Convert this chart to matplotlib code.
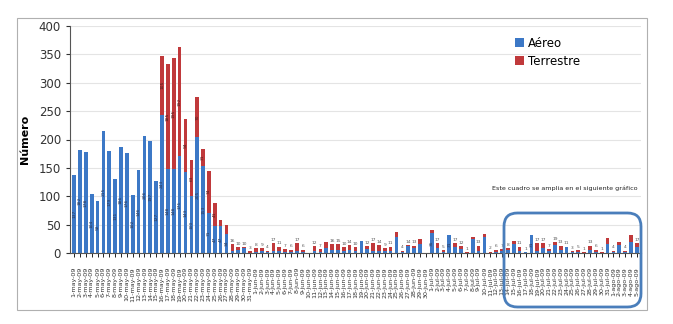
import numpy as np
import matplotlib.pyplot as plt
from matplotlib.patches import FancyBboxPatch, Rectangle
import pandas as pd

# Daten: Fälle pro Tag (Aéreo / Terrestre)
fechas = pd.date_range("2009-05-01", periods=97, freq="D")
meses = {5: "may", 6: "jun", 7: "jul", 8: "ago"}
etiquetas = [f"{d.day}-{meses[d.month]}-09" for d in fechas]

aereo = [137, 182, 178, 104, 92, 215, 179, 131, 186, 176, 102, 146, 206, 197, 127,
         243, 148, 148, 171, 143, 100, 205, 153, 71, 47, 47, 34,
         3, 5, 8, 0, 2, 3, 1, 4, 3, 2, 2, 3, 1, 0,
         4, 2, 8, 6, 5, 4, 6, 3, 21, 7, 4, 4, 3, 4, 28, 1, 12, 9, 16, 0,
         35, 8, 2, 31, 10, 7, 0, 24, 4, 28, 0, 2, 4, 5, 16, 4, 1, 31,
         4, 8, 3, 14, 5, 11, 1, 1, 0, 5, 2, 0, 15, 1, 14, 1, 20, 10]
terrestre = [0, 0, 0, 0, 0, 0, 0, 0, 0, 0, 0, 0, 0, 0, 0,
             105, 185, 195, 192, 94, 63, 70, 31, 74, 41, 11, 16,
             13, 5, 2, 3, 6, 6, 3, 13, 8, 5, 4, 14, 5, 0,
             8, 5, 12, 10, 10, 6, 8, 7, 0, 5, 13, 10, 6, 7, 9, 3, 2, 4, 8, 0,
             5, 9, 3, 1, 7, 5, 1, 4, 9, 5, 2, 4, 3, 3, 6, 7, 0, 0,
             13, 9, 4, 5, 8, 0, 2, 4, 1, 8, 4, 1, 12, 3, 6, 3, 11, 7]

aereo = np.array(aereo)
terrestre = np.array(terrestre)
x = np.arange(len(aereo))

azul = "#3C78C6"
rojo = "#C0393B"

fig = plt.figure(figsize=(6.73, 3.24), dpi=100)
ax = fig.add_axes([70 / 673, 1 - 253 / 324, 571 / 673, 227 / 324])

b1 = ax.bar(x, aereo, 0.62, color=azul, label="Aéreo")
b2 = ax.bar(x, terrestre, 0.62, bottom=aereo, color=rojo, label="Terrestre")

# kleine Werte-Beschriftungen in den Balken
ax.bar_label(b1, labels=[str(v) if v >= 30 else "" for v in aereo],
             label_type="center", rotation=90, fontsize=3.2, color="#2a3550")
ax.bar_label(b2, labels=[str(v) if v >= 30 else "" for v in terrestre],
             label_type="center", rotation=90, fontsize=3.2, color="#4a1c1c")
tot = aereo + terrestre
ax.bar_label(b2, labels=[str(v) if 0 < v < 20 else "" for v in tot],
             padding=1, fontsize=3.2, color="#555555")

ax.set_ylim(0, 400)
ax.set_xlim(-0.7, len(x) - 0.3)
ax.set_yticks(range(0, 401, 50))
ax.yaxis.grid(True, color="#e4e4e4", lw=0.8)
ax.set_axisbelow(True)
ax.set_xticks(x)
ax.set_xticklabels(etiquetas, rotation=90, fontsize=4.6, color="#333333")
ax.tick_params(axis="x", length=3, width=0.6, pad=7)
ax.tick_params(axis="y", labelsize=8.5, length=3, colors="#333333")
for s in ["top", "right"]:
    ax.spines[s].set_visible(False)
ax.spines["left"].set_color("#555555")
ax.spines["bottom"].set_color("#555555")
ax.set_ylabel("Número", fontsize=8, fontweight="bold", labelpad=6)

ax.legend(loc="upper left", bbox_to_anchor=(0.76, 1.0), frameon=False, fontsize=8.5,
          handlelength=0.8, handleheight=0.8, handletextpad=0.3, labelspacing=0.45)

# Rahmen und Hinweis
fig.add_artist(Rectangle((17 / 673, 1 - 310 / 324), 630 / 673, 292 / 324,
                         transform=fig.transFigure, fill=False, ec="#b0b0b0", lw=0.8))
fig.text(565 / 673, 1 - 188 / 324, "Este cuadro se amplia en el siguiente gráfico",
         ha="center", va="center", fontsize=4.6, color="#222222")
fig.add_artist(FancyBboxPatch((504 / 673, 1 - 307 / 324), 137 / 673, 94 / 324,
                              boxstyle="round,pad=0,rounding_size=0.02",
                              mutation_aspect=673 / 324,
                              transform=fig.transFigure, fill=False,
                              ec="#4A7EBB", lw=2))

plt.savefig("out.png")
